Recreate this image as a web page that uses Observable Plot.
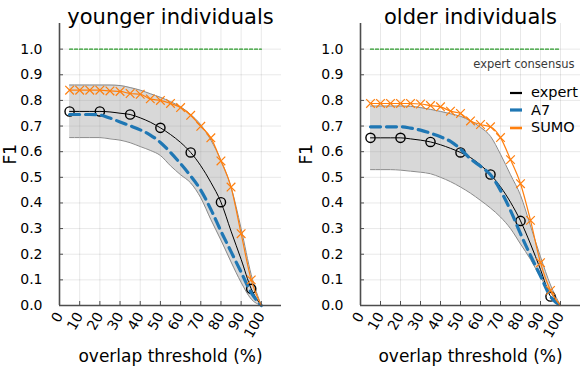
<!DOCTYPE html>
<html>
<head>
<meta charset="utf-8">
<script src="https://cdn.jsdelivr.net/npm/d3@7"></script>
<script src="https://cdn.jsdelivr.net/npm/@observablehq/plot@0.6"></script>
<style>
  html, body { margin: 0; padding: 0; background: #fff; }
  #wrap { position: relative; width: 581px; height: 371px; display: flex; font-family: "DejaVu Sans", sans-serif; overflow: hidden; }
  #wrap > div { flex: none; }
  #legend { position: absolute; left: 509px; top: 84px; width: 72px; font-size: 14.5px; color: #000; line-height: 17.5px; white-space: nowrap; }
  #legend .row { display: flex; align-items: center; height: 17.5px; }
  #legend svg { margin-right: 8px; flex: none; }
</style>
</head>
<body>
<div id="wrap">
  <div id="left"></div>
  <div id="right"></div>
  <div id="legend"></div>
</div>
<script>
// ---------- data ----------
const thresholds = [5,10,15,20,25,30,35,40,45,50,55,60,65,70,75,80,85,90,95,100];
const xTicks = [0,10,20,30,40,50,60,70,80,90,100];
const yTicks = [0,0.1,0.2,0.3,0.4,0.5,0.6,0.7,0.8,0.9,1.0];
const consensusF1 = 1.0;
const titles = ["younger individuals", "older individuals"];
const seriesNames = ["expert", "A7", "SUMO"];

// younger individuals
const youngExpert = [0.757,0.757,0.757,0.757,0.755,0.750,0.745,0.732,0.715,0.693,0.667,0.636,0.597,0.545,0.480,0.403,0.290,0.180,0.065,0];
const youngA7     = [0.745,0.745,0.745,0.743,0.731,0.716,0.701,0.685,0.665,0.636,0.597,0.553,0.505,0.450,0.375,0.290,0.210,0.130,0.050,0];
const youngSUMO   = [0.840,0.840,0.840,0.840,0.837,0.835,0.827,0.824,0.806,0.800,0.788,0.772,0.742,0.699,0.654,0.564,0.462,0.280,0.100,0];
const youngHi     = [0.860,0.860,0.860,0.860,0.860,0.858,0.850,0.840,0.826,0.812,0.795,0.775,0.745,0.705,0.645,0.566,0.462,0.300,0.120,0];
const youngLo     = [0.655,0.655,0.655,0.655,0.650,0.645,0.635,0.620,0.605,0.585,0.545,0.510,0.478,0.420,0.335,0.255,0.170,0.090,0.025,0];

// older individuals
const oldExpert = [0.654,0.654,0.654,0.654,0.650,0.645,0.638,0.627,0.613,0.597,0.577,0.548,0.511,0.463,0.403,0.330,0.240,0.140,0.035,0];
const oldA7     = [0.697,0.697,0.697,0.697,0.692,0.684,0.672,0.658,0.640,0.610,0.572,0.543,0.510,0.449,0.371,0.280,0.195,0.115,0.035,0];
const oldSUMO   = [0.788,0.788,0.788,0.788,0.788,0.786,0.780,0.775,0.758,0.749,0.720,0.706,0.697,0.655,0.569,0.475,0.332,0.167,0.059,0];
const oldHi     = [0.778,0.778,0.778,0.778,0.777,0.772,0.765,0.757,0.748,0.738,0.720,0.695,0.660,0.590,0.510,0.430,0.310,0.190,0.080,0];
const oldLo     = [0.530,0.530,0.530,0.528,0.524,0.520,0.514,0.500,0.483,0.462,0.438,0.410,0.380,0.345,0.300,0.240,0.180,0.110,0.050,0];

const colors = {expert: "#000000", A7: "#1f77b4", SUMO: "#ff7f0e", band: "#999999", bandEdge: "#8a8a8a", consensus: "#2a9a2a"};

function makePanel({title, expert, a7, sumo, hi, lo, width, marginLeft, marginRight, yLabelOffset, showConsensusText}) {
  const rows = thresholds.map((t, i) => ({t, expert: expert[i], a7: a7[i], sumo: sumo[i], hi: hi[i], lo: lo[i]}));
  const expertMarks = rows.filter(d => (d.t - 5) % 15 === 0);
  const sumoMarks = rows.filter(d => d.t < 100);
  const consensus = thresholds.map(t => ({t, y: consensusF1}));
  const marks = [
    Plot.gridX(xTicks, {stroke: "#000", strokeOpacity: 0.09}),
    Plot.gridY(yTicks, {stroke: "#000", strokeOpacity: 0.09}),
    Plot.areaY(rows, {x: "t", y1: "lo", y2: "hi", fill: colors.band, fillOpacity: 0.38, curve: "monotone-x"}),
    Plot.line(rows, {x: "t", y: "hi", stroke: colors.bandEdge, strokeWidth: 1, curve: "monotone-x"}),
    Plot.line(rows, {x: "t", y: "lo", stroke: colors.bandEdge, strokeWidth: 1, curve: "monotone-x"}),
    Plot.line(consensus, {x: "t", y: "y", stroke: colors.consensus, strokeWidth: 1.3, strokeDasharray: "3,2"}),
    Plot.line(rows, {x: "t", y: "expert", stroke: colors.expert, strokeWidth: 1, curve: "monotone-x"}),
    Plot.dot(expertMarks, {x: "t", y: "expert", r: 4.6, stroke: colors.expert, strokeWidth: 1.4, fill: "none"}),
    Plot.line(rows, {x: "t", y: "a7", stroke: colors.A7, strokeWidth: 3.2, strokeDasharray: "10,6", curve: "monotone-x"}),
    Plot.line(rows, {x: "t", y: "sumo", stroke: colors.SUMO, strokeWidth: 1.2, curve: "monotone-x"}),
    Plot.dot(sumoMarks, {x: "t", y: "sumo", symbol: "times", r: 4, stroke: colors.SUMO, strokeWidth: 1.2}),
    Plot.ruleX([0], {stroke: "#4d4d4d", strokeWidth: 1.6}),
    Plot.ruleY([0], {stroke: "#4d4d4d", strokeWidth: 1.6}),
    Plot.ruleX(xTicks, {x: d => d, stroke: "#4d4d4d", strokeWidth: 1, insetTop: 278}),
    Plot.ruleY(yTicks, {y: d => d, stroke: "#4d4d4d", strokeWidth: 1, insetRight: width - marginLeft - marginRight - 4}),
    Plot.axisY(yTicks, {tickSize: 0, tickPadding: 17, tickFormat: d3.format(".1f"), fontSize: 14, label: null}),
    Plot.axisX(xTicks, {tickSize: 0, tickPadding: 8, tickRotate: -60, fontSize: 14, label: null}),
    Plot.text([title], {frameAnchor: "top", dy: -14, fontSize: 21}),
    Plot.text(["F1"], {frameAnchor: "left", dx: -yLabelOffset, rotate: -90, fontSize: 17}),
    Plot.text(["overlap threshold (%)"], {frameAnchor: "bottom", dy: 56, fontSize: 17})
  ];
  if (showConsensusText) {
    marks.push(Plot.text(["expert consensus"], {frameAnchor: "top-right", dx: -6, dy: 36, fontSize: 11.5, fill: "#3a3a3a"}));
  }
  return Plot.plot({
    width, height: 371,
    marginLeft, marginRight, marginTop: 23, marginBottom: 66,
    x: {domain: [0, 110]},
    y: {domain: [0, 1.1]},
    style: {fontFamily: "DejaVu Sans, sans-serif", background: "transparent", color: "#000"},
    marks
  });
}

document.getElementById("left").append(makePanel({
  title: titles[0], expert: youngExpert, a7: youngA7, sumo: youngSUMO, hi: youngHi, lo: youngLo,
  width: 290, marginLeft: 59, marginRight: 9, yLabelOffset: 49, showConsensusText: false
}));
document.getElementById("right").append(makePanel({
  title: titles[1], expert: oldExpert, a7: oldA7, sumo: oldSUMO, hi: oldHi, lo: oldLo,
  width: 291, marginLeft: 70, marginRight: 1, yLabelOffset: 54, showConsensusText: true
}));

// legend
const legendStyles = {
  expert: {stroke: colors.expert, w: 2.2},
  A7: {stroke: colors.A7, w: 3.2},
  SUMO: {stroke: colors.SUMO, w: 2.6}
};
const legend = d3.select("#legend");
seriesNames.forEach(name => {
  const row = legend.append("div").attr("class", "row");
  const s = row.append("svg").attr("width", 14).attr("height", 10);
  s.append("line").attr("x1", 1).attr("x2", 13).attr("y1", 5).attr("y2", 5)
    .attr("stroke", legendStyles[name].stroke).attr("stroke-width", legendStyles[name].w);
  row.append("span").text(name);
});
</script>
</body>
</html>
